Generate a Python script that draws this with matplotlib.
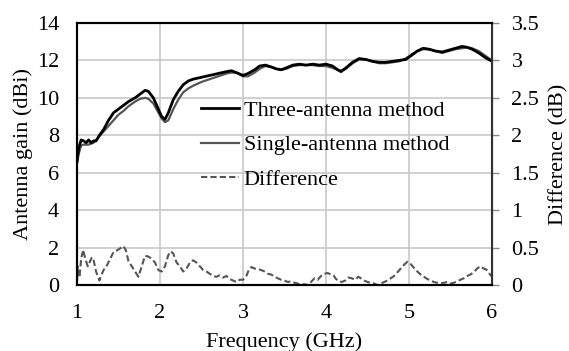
import matplotlib
matplotlib.use("Agg")
import matplotlib.pyplot as plt

# gain curves (GHz, dBi)
freq = [1.00, 1.02, 1.05, 1.08, 1.11, 1.14, 1.17, 1.20, 1.23, 1.27, 1.32, 1.38, 1.44, 1.50,
        1.56, 1.62, 1.70, 1.76, 1.82, 1.86, 1.92, 1.97, 2.02, 2.06, 2.10, 2.16, 2.22, 2.28,
        2.34, 2.40, 2.50, 2.60, 2.70, 2.80, 2.86, 2.92, 3.00, 3.06, 3.14, 3.20, 3.27, 3.34,
        3.40, 3.46, 3.52, 3.60, 3.68, 3.76, 3.84, 3.92, 4.00, 4.08, 4.14, 4.18, 4.24, 4.32,
        4.40, 4.48, 4.56, 4.64, 4.72, 4.80, 4.88, 4.96, 5.04, 5.10, 5.17, 5.24, 5.32, 5.40,
        5.48, 5.56, 5.64, 5.70, 5.76, 5.84, 5.92, 6.00]
three_ant = [6.6, 7.3, 7.75, 7.7, 7.6, 7.75, 7.6, 7.7, 7.7, 8.0, 8.3, 8.8, 9.2, 9.4,
             9.6, 9.8, 10.0, 10.2, 10.4, 10.35, 10.0, 9.5, 9.0, 8.85, 9.2, 9.9, 10.35, 10.7,
             10.9, 11.0, 11.1, 11.2, 11.3, 11.4, 11.45, 11.35, 11.2, 11.3, 11.5, 11.7, 11.75, 11.65,
             11.55, 11.5, 11.6, 11.75, 11.8, 11.75, 11.8, 11.75, 11.8, 11.7, 11.5, 11.4, 11.6, 11.9,
             12.1, 12.05, 11.95, 11.9, 11.9, 11.95, 12.0, 12.05, 12.3, 12.5, 12.65, 12.6, 12.5, 12.45,
             12.55, 12.65, 12.75, 12.7, 12.6, 12.4, 12.15, 11.95]
single_ant = [6.5, 7.0, 7.45, 7.5, 7.5, 7.5, 7.55, 7.6, 7.75, 7.95, 8.2, 8.5, 8.8, 9.1,
              9.3, 9.55, 9.8, 9.95, 10.0, 9.95, 9.7, 9.3, 8.9, 8.7, 8.8, 9.4, 9.9, 10.3,
              10.5, 10.65, 10.85, 11.0, 11.15, 11.3, 11.35, 11.35, 11.15, 11.15, 11.35, 11.55, 11.7, 11.65,
              11.55, 11.5, 11.55, 11.7, 11.75, 11.75, 11.75, 11.7, 11.7, 11.6, 11.5, 11.45, 11.55, 11.85,
              12.05, 12.05, 11.95, 11.85, 11.85, 11.9, 11.95, 12.1, 12.35, 12.5, 12.6, 12.6, 12.5, 12.4,
              12.5, 12.6, 12.65, 12.7, 12.65, 12.5, 12.25, 12.0]

# difference (dB)
diff_freq = [1.00, 1.01, 1.03, 1.05, 1.075, 1.10, 1.13, 1.15, 1.18, 1.20, 1.23, 1.27, 1.30, 1.33,
             1.36, 1.40, 1.44, 1.48, 1.52, 1.56, 1.59, 1.62, 1.66, 1.70, 1.74, 1.78, 1.82, 1.86,
             1.90, 1.94, 1.98, 2.02, 2.06, 2.10, 2.13, 2.16, 2.20, 2.24, 2.28, 2.32, 2.36, 2.40,
             2.44, 2.48, 2.52, 2.56, 2.60, 2.64, 2.68, 2.72, 2.76, 2.80, 2.84, 2.88, 2.92, 2.96,
             3.00, 3.04, 3.07, 3.10, 3.14, 3.18, 3.22, 3.26, 3.30, 3.34, 3.38, 3.42, 3.46, 3.50,
             3.54, 3.58, 3.62, 3.66, 3.70, 3.74, 3.78, 3.82, 3.86, 3.90, 3.94, 3.98, 4.02, 4.06,
             4.09, 4.12, 4.16, 4.19, 4.23, 4.27, 4.31, 4.35, 4.39, 4.42, 4.46, 4.50, 4.54, 4.58,
             4.62, 4.66, 4.70, 4.74, 4.78, 4.82, 4.86, 4.90, 4.94, 4.98, 5.02, 5.06, 5.10, 5.14,
             5.18, 5.22, 5.26, 5.30, 5.34, 5.38, 5.42, 5.46, 5.50, 5.54, 5.58, 5.62, 5.66, 5.70,
             5.74, 5.78, 5.82, 5.86, 5.90, 5.94, 5.97, 6.00]
diff_db = [0.05, 0.25, 0.1, 0.35, 0.47, 0.35, 0.25, 0.3, 0.37, 0.33, 0.18, 0.06, 0.15, 0.22,
           0.26, 0.35, 0.44, 0.46, 0.49, 0.52, 0.46, 0.32, 0.25, 0.18, 0.11, 0.25, 0.39, 0.38,
           0.35, 0.3, 0.2, 0.18, 0.25, 0.4, 0.45, 0.42, 0.3, 0.25, 0.18, 0.22, 0.3, 0.33,
           0.3, 0.25, 0.2, 0.18, 0.15, 0.12, 0.11, 0.13, 0.1, 0.12, 0.08, 0.06, 0.04, 0.07,
           0.07, 0.12, 0.2, 0.24, 0.22, 0.21, 0.2, 0.18, 0.15, 0.14, 0.11, 0.09, 0.07, 0.06,
           0.04, 0.05, 0.03, 0.02, 0.0, 0.01, 0.0, 0.04, 0.09, 0.07, 0.12, 0.15, 0.16, 0.14,
           0.13, 0.08, 0.05, 0.04, 0.06, 0.1, 0.09, 0.07, 0.11, 0.09, 0.06, 0.04, 0.03, 0.02,
           0.0, 0.02, 0.04, 0.06, 0.09, 0.12, 0.17, 0.22, 0.27, 0.31, 0.28, 0.23, 0.18, 0.14,
           0.11, 0.08, 0.06, 0.04, 0.03, 0.02, 0.03, 0.04, 0.02, 0.03, 0.05, 0.07, 0.09, 0.12,
           0.14, 0.17, 0.22, 0.25, 0.22, 0.2, 0.15, 0.11]

plt.rcParams['font.family'] = ['Liberation Serif', 'DejaVu Serif']
plt.rcParams['font.size'] = 16

fig = plt.figure(figsize=(5.69, 3.51), dpi=100)
ax = fig.add_axes([0.1353, 0.188, 0.7294, 0.7465])
ax2 = ax.twinx()

l1, = ax.plot(freq, three_ant, color='black', lw=2.0, label='Three-antenna method', zorder=3)
l2, = ax.plot(freq, single_ant, color='#555555', lw=1.6, label='Single-antenna method', zorder=2)
l3, = ax2.plot(diff_freq, diff_db, color='#555555', lw=1.5, ls=(0, (3, 1.5)), label='Difference')

ax.set_xlim(1, 6)
ax.set_ylim(0, 14)
ax.set_yticks(range(0, 15, 2))
ax.set_xticks(range(1, 7))
ax2.set_ylim(0, 3.5)
ax2.set_yticks([0, 0.5, 1, 1.5, 2, 2.5, 3, 3.5])
ax2.set_yticklabels(['0', '0.5', '1', '1.5', '2', '2.5', '3', '3.5'])

ax.grid(True, color='#c8c8c8', lw=1.2)
ax.set_axisbelow(True)
ax.tick_params(axis='y', length=0, pad=13)
ax.tick_params(axis='x', length=0, pad=14)
ax2.tick_params(axis='y', length=5, width=1, color='#888888', pad=9)

for sp in ['left', 'top', 'bottom']:
    ax.spines[sp].set_color('black')
    ax.spines[sp].set_linewidth(1.5)
for sp in ax2.spines.values():
    sp.set_linewidth(1.5)
ax2.spines['right'].set_color('#333333')

ax.set_xlabel('Frequency (GHz)', labelpad=6)
ax.set_ylabel('Antenna gain (dBi)', labelpad=3)
ax2.set_ylabel('Difference (dB)', labelpad=7)

ax2.legend([l1, l2, l3], [l1.get_label(), l2.get_label(), l3.get_label()],
           loc='upper left', bbox_to_anchor=(0.3, 0.705), frameon=False,
           handlelength=1.7, handletextpad=0.2, labelspacing=0.63,
           borderpad=0, borderaxespad=0)

fig.savefig('out.png', dpi=100)
